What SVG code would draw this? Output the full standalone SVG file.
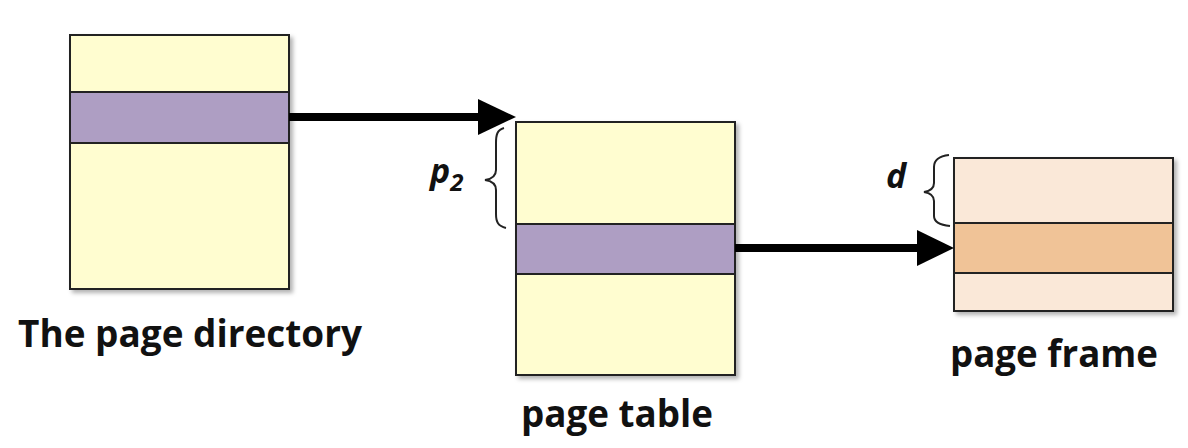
<svg xmlns="http://www.w3.org/2000/svg" width="1188" height="448" viewBox="0 0 1188 448">
<style>
.box{stroke:#222;stroke-width:2}
.yel{fill:#FFFDD0}
.pur{fill:#AE9EC3}
.pl{fill:#FAE8D8}
.po{fill:#F0C397}
.lbl{font-family:"Open Sans",Lato,sans-serif;font-weight:bold;font-size:37px;fill:#111}
.var{font-family:"Open Sans",sans-serif;font-weight:bold;font-style:italic;font-size:34px;fill:#111}
.brace{fill:none;stroke:#222;stroke-width:2}
.conn{stroke:#000;stroke-width:8;fill:none}
</style>
<defs>
<filter id="sh" x="-10%" y="-10%" width="130%" height="130%">
<feDropShadow dx="3" dy="3" stdDeviation="2" flood-color="#000" flood-opacity="0.3"/>
</filter>
</defs>
<rect width="1188" height="448" fill="#fff"/>
<g id="page-directory">
<g filter="url(#sh)">
<rect class="box yel" x="70" y="35" width="219" height="254"/>
</g>
<rect class="box pur" x="70" y="92" width="219" height="51"/>
<text class="lbl" x="18" y="347" textLength="344" lengthAdjust="spacingAndGlyphs">The page directory</text>
</g>
<g id="page-table">
<g filter="url(#sh)">
<rect class="box yel" x="516" y="122" width="219" height="253"/>
</g>
<rect class="box pur" x="516" y="224" width="219" height="50"/>
<text class="lbl" x="521" y="427" textLength="192" lengthAdjust="spacingAndGlyphs">page table</text>
<path class="brace" d="M504,128 C497,130 496,135 496,143 L496,170 C496,176 492,179 485,180 C492,181 496,184 496,190 L496,214 C496,222 498,226 506,228"/>
<text class="var" x="430" y="183" font-size="38">p<tspan font-size="24" dy="8">2</tspan></text>
</g>
<g id="page-frame">
<g filter="url(#sh)">
<rect class="box pl" x="954" y="158" width="219" height="153"/>
</g>
<rect class="box po" x="954" y="223" width="219" height="50"/>
<text class="lbl" x="950" y="367" textLength="208" lengthAdjust="spacingAndGlyphs">page frame</text>
<path class="brace" d="M949,155 C940,156 934,160 934,167 L934,183 C934,188 930,191 924,192 C930,193 934,196 934,201 L934,216 C934,222 940,225 950,226"/>
<text class="var" x="886" y="188">d</text>
</g>
<g id="connectors">
<line class="conn" x1="289" y1="117" x2="482" y2="117"/>
<polygon points="478,99 516,117 478,135" fill="#000"/>
<line class="conn" x1="735" y1="248" x2="920" y2="248"/>
<polygon points="917,230 954,248 917,266" fill="#000"/>
</g>
</svg>
